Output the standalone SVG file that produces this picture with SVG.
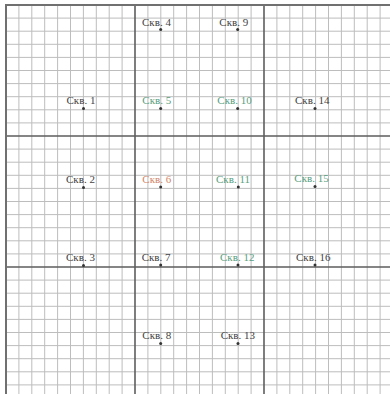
<svg xmlns="http://www.w3.org/2000/svg" width="390" height="394" viewBox="0 0 390 394">
<style>
.fine{stroke:#bdbdbd;stroke-width:1;fill:none}
.thick{stroke:#5e5e5e;stroke-width:1.6;fill:none}
.border{stroke:#707070;stroke-width:2;fill:none}
.lbl{font-family:"Liberation Serif","Times New Roman",serif;font-size:11px}
.k{fill:#444}
.g{fill:#5aa080}
.o{fill:#d4866a}
.dot{fill:#333}
</style>
<rect width="390" height="394" fill="#ffffff"/>
<g id="grid">
<path class="fine" d="M18.9 5V394M31.8 5V394M44.7 5V394M57.6 5V394M70.5 5V394M83.4 5V394M96.3 5V394M109.2 5V394M122.1 5V394M147.9 5V394M160.8 5V394M173.7 5V394M186.6 5V394M199.5 5V394M212.4 5V394M225.3 5V394M238.2 5V394M251.1 5V394M276.9 5V394M289.8 5V394M302.7 5V394M315.6 5V394M328.5 5V394M341.4 5V394M354.3 5V394M367.2 5V394M380.1 5V394"/>
<path class="fine" d="M6 18.1H390M6 31.2H390M6 44.3H390M6 57.4H390M6 70.5H390M6 83.6H390M6 96.7H390M6 109.8H390M6 122.9H390M6 149.1H390M6 162.2H390M6 175.3H390M6 188.4H390M6 201.5H390M6 214.6H390M6 227.7H390M6 240.8H390M6 253.9H390M6 280.1H390M6 293.2H390M6 306.3H390M6 319.4H390M6 332.5H390M6 345.6H390M6 358.7H390M6 371.8H390M6 384.9H390"/>
<path class="thick" d="M135 5V394M264 5V394M6 136H390M6 267H390"/>
<path class="border" d="M6 394V5H390"/>
</g>
<g id="connectors"></g>
<g id="n1"><circle class="dot" cx="83.5" cy="108.5" r="1.5"/><text class="lbl k" x="66.5" y="104">Скв. 1</text></g>
<g id="n2"><circle class="dot" cx="83.5" cy="187.5" r="1.5"/><text class="lbl k" x="66" y="183">Скв. 2</text></g>
<g id="n3"><circle class="dot" cx="83.5" cy="265.5" r="1.5"/><text class="lbl k" x="66" y="261">Скв. 3</text></g>
<g id="n4"><circle class="dot" cx="160.7" cy="29.5" r="1.5"/><text class="lbl k" x="142" y="25.5">Скв. 4</text></g>
<g id="n5"><circle class="dot" cx="160.7" cy="108.5" r="1.5"/><text class="lbl g" x="142.3" y="104">Скв. 5</text></g>
<g id="n6"><circle class="dot" cx="160.7" cy="187" r="1.5"/><text class="lbl o" x="142.3" y="183">Скв. 6</text></g>
<g id="n7"><circle class="dot" cx="160.7" cy="265" r="1.5"/><text class="lbl k" x="141.7" y="261">Скв. 7</text></g>
<g id="n8"><circle class="dot" cx="160.7" cy="343.5" r="1.5"/><text class="lbl k" x="142.3" y="339">Скв. 8</text></g>
<g id="n9"><circle class="dot" cx="237.7" cy="29.5" r="1.5"/><text class="lbl k" x="219.3" y="25.5">Скв. 9</text></g>
<g id="n10"><circle class="dot" cx="237.7" cy="108.5" r="1.5"/><text class="lbl g" x="217.3" y="104">Скв. 10</text></g>
<g id="n11"><circle class="dot" cx="238.3" cy="187" r="1.5"/><text class="lbl g" x="216" y="183">Скв. 11</text></g>
<g id="n12"><circle class="dot" cx="238" cy="265" r="1.5"/><text class="lbl g" x="220" y="261">Скв. 12</text></g>
<g id="n13"><circle class="dot" cx="238" cy="343.5" r="1.5"/><text class="lbl k" x="220.7" y="339">Скв. 13</text></g>
<g id="n14"><circle class="dot" cx="315" cy="108.5" r="1.5"/><text class="lbl k" x="295" y="104">Скв. 14</text></g>
<g id="n15"><circle class="dot" cx="315" cy="186.5" r="1.5"/><text class="lbl g" x="294.3" y="181.5">Скв. 15</text></g>
<g id="n16"><circle class="dot" cx="315" cy="265" r="1.5"/><text class="lbl k" x="296" y="261">Скв. 16</text></g>
</svg>
